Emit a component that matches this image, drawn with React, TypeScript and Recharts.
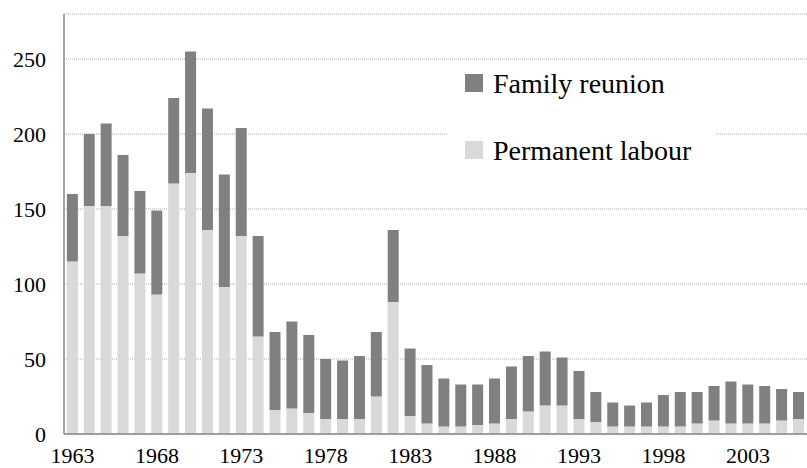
import { BarChart, Bar, XAxis, YAxis, CartesianGrid, Legend } from 'recharts';

const years = [
  1963, 1964, 1965, 1966, 1967, 1968, 1969, 1970, 1971, 1972, 1973, 1974, 1975, 1976, 1977,
  1978, 1979, 1980, 1981, 1982, 1983, 1984, 1985, 1986, 1987, 1988, 1989, 1990, 1991, 1992,
  1993, 1994, 1995, 1996, 1997, 1998, 1999, 2000, 2001, 2002, 2003, 2004, 2005, 2006,
];

// lower (light) segment
const permanentLabour = [
  115, 152, 152, 132, 107, 93, 167, 174, 136, 98, 132, 65, 16, 17, 14,
  10, 10, 10, 25, 88, 12, 7, 5, 5, 6, 7, 10, 15, 19, 19,
  10, 8, 5, 5, 5, 5, 5, 7, 9, 7, 7, 7, 9, 10,
];

// upper (dark) segment
const familyReunion = [
  45, 48, 55, 54, 55, 56, 57, 81, 81, 75, 72, 67, 52, 58, 52,
  40, 39, 42, 43, 48, 45, 39, 32, 28, 27, 30, 35, 37, 36, 32,
  32, 20, 16, 14, 16, 21, 23, 21, 23, 28, 26, 25, 21, 18,
];

const yTicks = [0, 50, 100, 150, 200, 250];

const data = years.map((y, i) => ({
  year: String(y),
  permanent: permanentLabour[i],
  family: familyReunion[i],
}));

const FONT = '"Liberation Serif", "Times New Roman", serif';
const DARK = '#808080';
const LIGHT = '#d9d9d9';

function LegendBox() {
  const items = [
    { name: 'Family reunion', color: DARK, top: 10 },
    { name: 'Permanent labour', color: LIGHT, top: 77 },
  ];
  return (
    <div style={{ position: 'relative', width: 268, height: 106, background: '#fff' }}>
      {items.map((it) => (
        <div key={it.name}>
          <div style={{ position: 'absolute', left: 18, top: it.top + 4, width: 18, height: 18, background: it.color }} />
          <div
            style={{
              position: 'absolute', left: 46, top: it.top, fontFamily: FONT, fontSize: 28,
              lineHeight: '28px', color: '#000', whiteSpace: 'nowrap',
            }}
          >
            {it.name}
          </div>
        </div>
      ))}
    </div>
  );
}

export default function App() {
  return (
    <div style={{ position: 'absolute', left: 0, top: 0, width: 807, height: 468, background: '#fff' }}>
      <BarChart width={807} height={468} data={data} margin={{ top: 14, right: 0, left: 0, bottom: 0 }} barCategoryGap="17%">
        <CartesianGrid vertical={false} stroke="#aaaaaa" strokeDasharray="1 1" />
        <XAxis
          dataKey="year"
          interval={4}
          height={34}
          tickLine={false}
          tickMargin={7}
          axisLine={{ stroke: '#868686', strokeWidth: 1.5 }}
          tick={{ fontFamily: FONT, fontSize: 22, fill: '#000' }}
        />
        <YAxis
          domain={[0, 280]}
          ticks={yTicks}
          width={64}
          tickLine={false}
          tickMargin={12}
          axisLine={{ stroke: '#868686', strokeWidth: 1.5 }}
          tick={{ fontFamily: FONT, fontSize: 22, fill: '#000' }}
        />
        <Legend
          layout="vertical"
          align="center"
          verticalAlign="middle"
          content={() => <LegendBox />}
          wrapperStyle={{ position: 'absolute', left: 447, top: 60, width: 268, height: 106 }}
        />
        <Bar dataKey="permanent" name="Permanent labour" stackId="a" fill={LIGHT} isAnimationActive={false} />
        <Bar dataKey="family" name="Family reunion" stackId="a" fill={DARK} isAnimationActive={false} />
      </BarChart>
    </div>
  );
}
